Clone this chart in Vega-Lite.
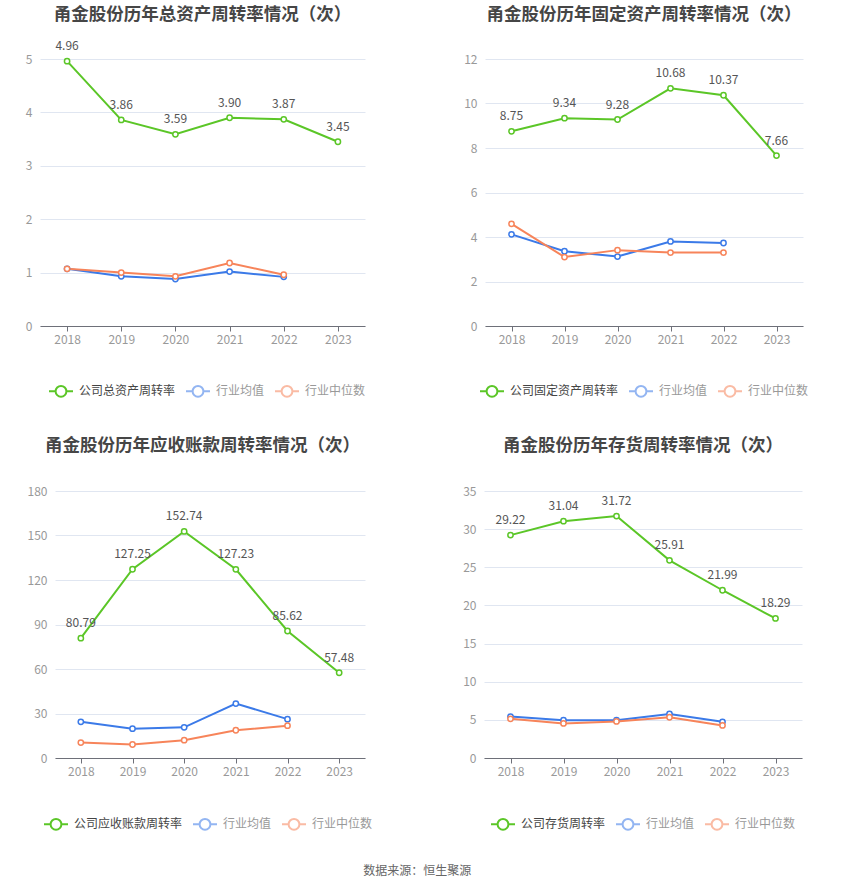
{
  "$schema": "https://vega.github.io/schema/vega-lite/v6.json",
  "background": "white",
  "padding": {"left": 25, "top": 5, "right": 5, "bottom": 5},
  "config": {
    "font": "Noto Sans CJK SC",
    "view": {"stroke": null},
    "axis": {"labelFont": "Noto Sans CJK SC", "labelFontSize": 12, "labelColor": "#999999"},
    "axisY": {"domain": false, "ticks": false, "gridColor": "#E0E6F1", "gridWidth": 1, "labelPadding": 8},
    "axisX": {"grid": false, "domainColor": "#6E7079", "tickColor": "#6E7079", "tickSize": 5, "labelPadding": 3, "labelAngle": 0},
    "title": {"fontSize": 17.5, "fontWeight": "bold", "color": "#464646", "anchor": "middle", "frame": "group"},
    "legend": {
      "orient": "none", "direction": "horizontal", "title": null,
      "symbolType": "M-1,0L-0.45,0M0.45,0L1,0M0.45,0A0.45,0.45,0,1,1,-0.45,0A0.45,0.45,0,1,1,0.45,0",
      "symbolSize": 576, "symbolStrokeWidth": 2, "symbolFillColor": "white",
      "labelFont": "Noto Sans CJK SC", "labelFontSize": 12, "labelOffset": 5, "columnPadding": 6,
      "labelColor": "#444444"
    }
  },
  "datasets": {
    "d": [
      {"p": "A", "s": "公司总资产周转率", "year": "2018", "v": 4.96},
      {"p": "A", "s": "公司总资产周转率", "year": "2019", "v": 3.86},
      {"p": "A", "s": "公司总资产周转率", "year": "2020", "v": 3.59},
      {"p": "A", "s": "公司总资产周转率", "year": "2021", "v": 3.90},
      {"p": "A", "s": "公司总资产周转率", "year": "2022", "v": 3.87},
      {"p": "A", "s": "公司总资产周转率", "year": "2023", "v": 3.45},
      {"p": "A", "s": "行业均值", "year": "2018", "v": 1.07},
      {"p": "A", "s": "行业均值", "year": "2019", "v": 0.93},
      {"p": "A", "s": "行业均值", "year": "2020", "v": 0.88},
      {"p": "A", "s": "行业均值", "year": "2021", "v": 1.02},
      {"p": "A", "s": "行业均值", "year": "2022", "v": 0.92},
      {"p": "A", "s": "行业中位数", "year": "2018", "v": 1.07},
      {"p": "A", "s": "行业中位数", "year": "2019", "v": 1.00},
      {"p": "A", "s": "行业中位数", "year": "2020", "v": 0.93},
      {"p": "A", "s": "行业中位数", "year": "2021", "v": 1.18},
      {"p": "A", "s": "行业中位数", "year": "2022", "v": 0.96},
      {"p": "B", "s": "公司固定资产周转率", "year": "2018", "v": 8.75},
      {"p": "B", "s": "公司固定资产周转率", "year": "2019", "v": 9.34},
      {"p": "B", "s": "公司固定资产周转率", "year": "2020", "v": 9.28},
      {"p": "B", "s": "公司固定资产周转率", "year": "2021", "v": 10.68},
      {"p": "B", "s": "公司固定资产周转率", "year": "2022", "v": 10.37},
      {"p": "B", "s": "公司固定资产周转率", "year": "2023", "v": 7.66},
      {"p": "B", "s": "行业均值", "year": "2018", "v": 4.12},
      {"p": "B", "s": "行业均值", "year": "2019", "v": 3.36},
      {"p": "B", "s": "行业均值", "year": "2020", "v": 3.12},
      {"p": "B", "s": "行业均值", "year": "2021", "v": 3.80},
      {"p": "B", "s": "行业均值", "year": "2022", "v": 3.73},
      {"p": "B", "s": "行业中位数", "year": "2018", "v": 4.59},
      {"p": "B", "s": "行业中位数", "year": "2019", "v": 3.10},
      {"p": "B", "s": "行业中位数", "year": "2020", "v": 3.41},
      {"p": "B", "s": "行业中位数", "year": "2021", "v": 3.30},
      {"p": "B", "s": "行业中位数", "year": "2022", "v": 3.30},
      {"p": "C", "s": "公司应收账款周转率", "year": "2018", "v": 80.79},
      {"p": "C", "s": "公司应收账款周转率", "year": "2019", "v": 127.25},
      {"p": "C", "s": "公司应收账款周转率", "year": "2020", "v": 152.74},
      {"p": "C", "s": "公司应收账款周转率", "year": "2021", "v": 127.23},
      {"p": "C", "s": "公司应收账款周转率", "year": "2022", "v": 85.62},
      {"p": "C", "s": "公司应收账款周转率", "year": "2023", "v": 57.48},
      {"p": "C", "s": "行业均值", "year": "2018", "v": 24.4},
      {"p": "C", "s": "行业均值", "year": "2019", "v": 19.8},
      {"p": "C", "s": "行业均值", "year": "2020", "v": 20.7},
      {"p": "C", "s": "行业均值", "year": "2021", "v": 36.7},
      {"p": "C", "s": "行业均值", "year": "2022", "v": 26.2},
      {"p": "C", "s": "行业中位数", "year": "2018", "v": 10.4},
      {"p": "C", "s": "行业中位数", "year": "2019", "v": 9.1},
      {"p": "C", "s": "行业中位数", "year": "2020", "v": 12.0},
      {"p": "C", "s": "行业中位数", "year": "2021", "v": 18.7},
      {"p": "C", "s": "行业中位数", "year": "2022", "v": 21.8},
      {"p": "D", "s": "公司存货周转率", "year": "2018", "v": 29.22},
      {"p": "D", "s": "公司存货周转率", "year": "2019", "v": 31.04},
      {"p": "D", "s": "公司存货周转率", "year": "2020", "v": 31.72},
      {"p": "D", "s": "公司存货周转率", "year": "2021", "v": 25.91},
      {"p": "D", "s": "公司存货周转率", "year": "2022", "v": 21.99},
      {"p": "D", "s": "公司存货周转率", "year": "2023", "v": 18.29},
      {"p": "D", "s": "行业均值", "year": "2018", "v": 5.43},
      {"p": "D", "s": "行业均值", "year": "2019", "v": 4.96},
      {"p": "D", "s": "行业均值", "year": "2020", "v": 4.96},
      {"p": "D", "s": "行业均值", "year": "2021", "v": 5.77},
      {"p": "D", "s": "行业均值", "year": "2022", "v": 4.74},
      {"p": "D", "s": "行业中位数", "year": "2018", "v": 5.13},
      {"p": "D", "s": "行业中位数", "year": "2019", "v": 4.53},
      {"p": "D", "s": "行业中位数", "year": "2020", "v": 4.79},
      {"p": "D", "s": "行业中位数", "year": "2021", "v": 5.34},
      {"p": "D", "s": "行业中位数", "year": "2022", "v": 4.27}
    ]
  },
  "title": {"text": "数据来源：恒生聚源", "orient": "bottom", "anchor": "middle", "frame": "bounds", "fontSize": 12, "fontWeight": "normal", "color": "#666666", "offset": 32},
  "resolve": {"scale": {"color": "independent"}, "legend": {"color": "independent"}},
  "spacing": 35,
  "vconcat": [
    {
      "spacing": 97,
      "resolve": {"scale": {"color": "independent"}, "legend": {"color": "independent"}},
      "hconcat": [
        {
          "width": 325, "height": 267,
          "title": {"text": "甬金股份历年总资产周转率情况（次）", "offset": 17},
          "data": {"name": "d"},
          "transform": [{"filter": "datum.p == 'A'"}],
          "encoding": {
            "x": {"field": "year", "type": "ordinal", "title": null},
            "y": {"field": "v", "type": "quantitative", "title": null, "scale": {"domain": [0, 5]}, "axis": {"values": [0, 1, 2, 3, 4, 5]}},
            "color": {"field": "s", "type": "nominal", "scale": {"domain": ["公司总资产周转率", "行业均值", "行业中位数"], "range": ["#5BC627", "#3B7AE8", "#F7845A"]},
              "legend": {"legendX": 8, "legendY": 319,
                "encode": {"symbols": {"update": {"opacity": {"signal": "datum.value == '行业均值' || datum.value == '行业中位数' ? 0.55 : 1"}}},
                           "labels": {"update": {"fill": {"signal": "datum.value == '行业均值' || datum.value == '行业中位数' ? '#999999' : '#444444'"}}}}}}
          },
          "layer": [
            {"mark": {"type": "line", "strokeWidth": 2}},
            {"mark": {"type": "point", "filled": false, "fill": "white", "fillOpacity": 1, "size": 28, "strokeWidth": 1.5, "opacity": 1}},
            {"transform": [{"filter": "indexof(datum.s, '公司') == 0"}],
             "mark": {"type": "text", "dy": -15, "fontSize": 12, "baseline": "middle"},
             "encoding": {"text": {"field": "v", "format": ".2f"}, "color": {"value": "#555555"}}}
          ]
        },
        {
          "width": 318, "height": 267,
          "title": {"text": "甬金股份历年固定资产周转率情况（次）", "offset": 30},
          "data": {"name": "d"},
          "transform": [{"filter": "datum.p == 'B'"}],
          "encoding": {
            "x": {"field": "year", "type": "ordinal", "title": null},
            "y": {"field": "v", "type": "quantitative", "title": null, "scale": {"domain": [0, 12]}, "axis": {"values": [0, 2, 4, 6, 8, 10, 12]}},
            "color": {"field": "s", "type": "nominal", "scale": {"domain": ["公司固定资产周转率", "行业均值", "行业中位数"], "range": ["#5BC627", "#3B7AE8", "#F7845A"]},
              "legend": {"legendX": -6, "legendY": 319,
                "encode": {"symbols": {"update": {"opacity": {"signal": "datum.value == '行业均值' || datum.value == '行业中位数' ? 0.55 : 1"}}},
                           "labels": {"update": {"fill": {"signal": "datum.value == '行业均值' || datum.value == '行业中位数' ? '#999999' : '#444444'"}}}}}}
          },
          "layer": [
            {"mark": {"type": "line", "strokeWidth": 2}},
            {"mark": {"type": "point", "filled": false, "fill": "white", "fillOpacity": 1, "size": 28, "strokeWidth": 1.5, "opacity": 1}},
            {"transform": [{"filter": "indexof(datum.s, '公司') == 0"}],
             "mark": {"type": "text", "dy": -15, "fontSize": 12, "baseline": "middle"},
             "encoding": {"text": {"field": "v", "format": ".2f"}, "color": {"value": "#555555"}}}
          ]
        }
      ]
    },
    {
      "spacing": 89,
      "resolve": {"scale": {"color": "independent"}, "legend": {"color": "independent"}},
      "hconcat": [
        {
          "width": 325, "height": 267,
          "title": {"text": "甬金股份历年应收账款周转率情况（次）", "offset": 31},
          "data": {"name": "d"},
          "transform": [{"filter": "datum.p == 'C'"}],
          "encoding": {
            "x": {"field": "year", "type": "ordinal", "title": null, "scale": {"range": [15, 325]}},
            "y": {"field": "v", "type": "quantitative", "title": null, "scale": {"domain": [0, 180]}, "axis": {"values": [0, 30, 60, 90, 120, 150, 180], "offset": -15}},
            "color": {"field": "s", "type": "nominal", "scale": {"domain": ["公司应收账款周转率", "行业均值", "行业中位数"], "range": ["#5BC627", "#3B7AE8", "#F7845A"]},
              "legend": {"legendX": 3, "legendY": 320,
                "encode": {"symbols": {"update": {"opacity": {"signal": "datum.value == '行业均值' || datum.value == '行业中位数' ? 0.55 : 1"}}},
                           "labels": {"update": {"fill": {"signal": "datum.value == '行业均值' || datum.value == '行业中位数' ? '#999999' : '#444444'"}}}}}}
          },
          "layer": [
            {"mark": {"type": "line", "strokeWidth": 2}},
            {"mark": {"type": "point", "filled": false, "fill": "white", "fillOpacity": 1, "size": 28, "strokeWidth": 1.5, "opacity": 1}},
            {"transform": [{"filter": "indexof(datum.s, '公司') == 0"}],
             "mark": {"type": "text", "dy": -15, "fontSize": 12, "baseline": "middle"},
             "encoding": {"text": {"field": "v", "format": ".2f"}, "color": {"value": "#555555"}}}
          ]
        },
        {
          "width": 318, "height": 267,
          "title": {"text": "甬金股份历年存货周转率情况（次）", "offset": 31},
          "data": {"name": "d"},
          "transform": [{"filter": "datum.p == 'D'"}],
          "encoding": {
            "x": {"field": "year", "type": "ordinal", "title": null},
            "y": {"field": "v", "type": "quantitative", "title": null, "scale": {"domain": [0, 35]}, "axis": {"values": [0, 5, 10, 15, 20, 25, 30, 35]}},
            "color": {"field": "s", "type": "nominal", "scale": {"domain": ["公司存货周转率", "行业均值", "行业中位数"], "range": ["#5BC627", "#3B7AE8", "#F7845A"]},
              "legend": {"legendX": 6, "legendY": 320,
                "encode": {"symbols": {"update": {"opacity": {"signal": "datum.value == '行业均值' || datum.value == '行业中位数' ? 0.55 : 1"}}},
                           "labels": {"update": {"fill": {"signal": "datum.value == '行业均值' || datum.value == '行业中位数' ? '#999999' : '#444444'"}}}}}}
          },
          "layer": [
            {"mark": {"type": "line", "strokeWidth": 2}},
            {"mark": {"type": "point", "filled": false, "fill": "white", "fillOpacity": 1, "size": 28, "strokeWidth": 1.5, "opacity": 1}},
            {"transform": [{"filter": "indexof(datum.s, '公司') == 0"}],
             "mark": {"type": "text", "dy": -15, "fontSize": 12, "baseline": "middle"},
             "encoding": {"text": {"field": "v", "format": ".2f"}, "color": {"value": "#555555"}}}
          ]
        }
      ]
    }
  ]
}
